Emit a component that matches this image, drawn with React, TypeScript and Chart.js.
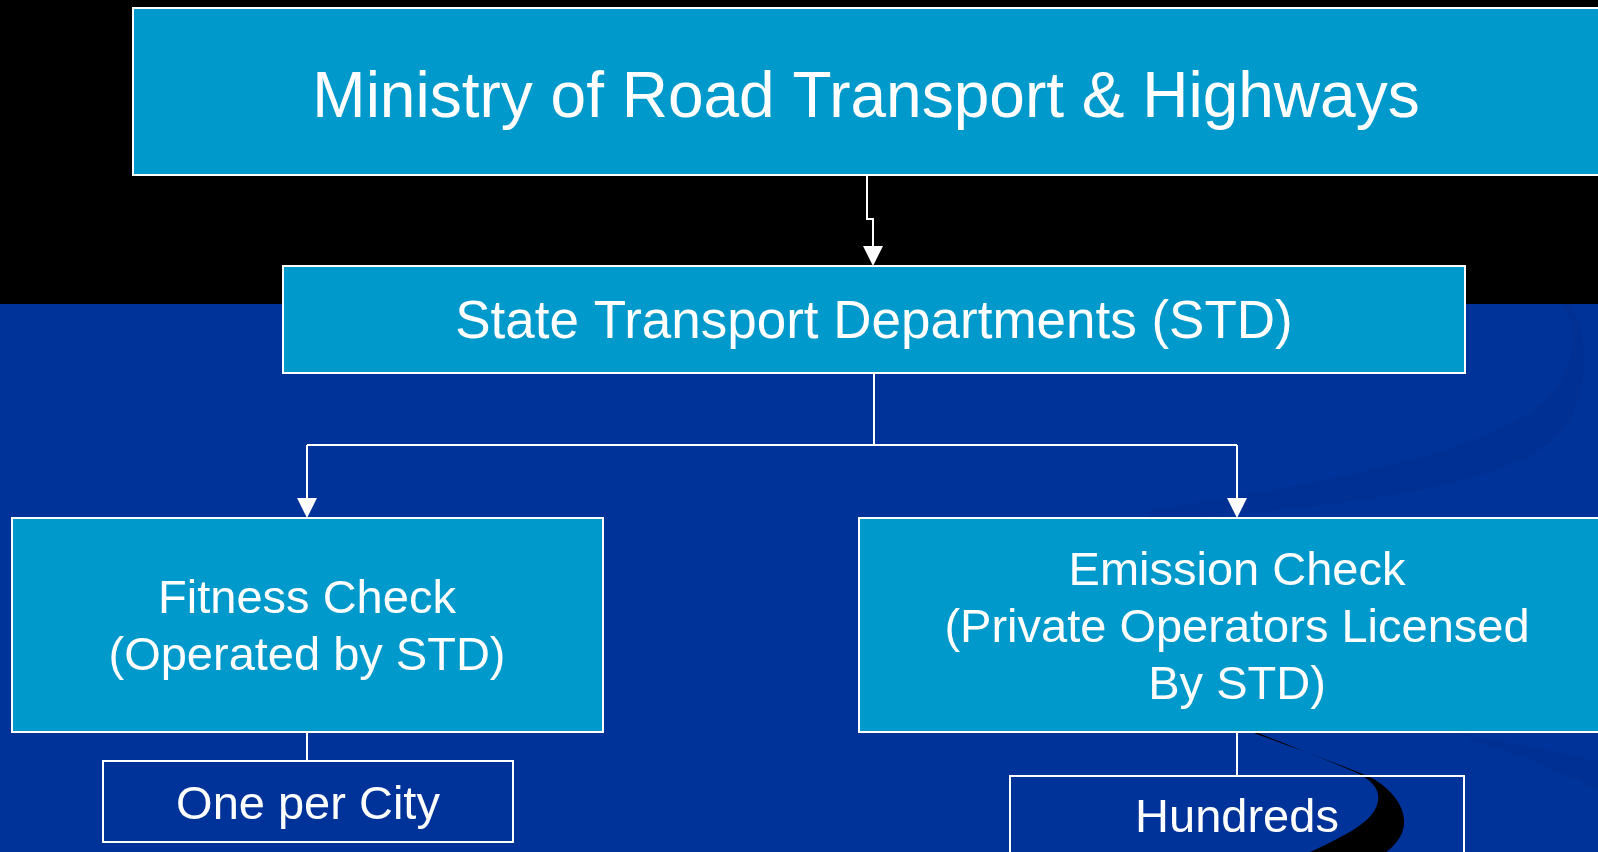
import React, { useEffect, useRef } from "react";
import { Chart, registerables } from "chart.js";

Chart.register(...registerables);

// ---- content ----
const nodeLabels: string[][] = [
  ["Ministry of Road Transport & Highways"],
  ["State Transport Departments (STD)"],
  ["Fitness Check", "(Operated by STD)"],
  ["Emission Check", "(Private Operators Licensed", "By STD)"],
  ["One per City"],
  ["Hundreds"],
];

// ---- layout (page pixel space used as scale units) ----
const W = 1598;
const H = 852;
const boxLeft = [133, 283, 12, 859, 103, 1010];
const boxRight = [1600, 1465, 603, 1620, 513, 1464];
const boxTop = [8, 266, 518, 518, 761, 776];
const boxBottom = [175, 373, 732, 732, 842, 905];
const boxFilled = [true, true, true, true, false, false];
const textCenterX = [866, 874, 307, 1237, 308, 1237];
const fontSizes = [64, 53, 47, 47, 47, 47];
const firstBaseline = [117, 338, 613, 585, 819, 832];
const lineGap = 57;

const connectorPaths: number[][][] = [
  [[867, 175], [867, 219], [873, 219], [873, 266]],
  [[874, 373], [874, 445]],
  [[307, 445], [1237, 445]],
  [[307, 445], [307, 518]],
  [[1237, 445], [1237, 518]],
  [[307, 732], [307, 761]],
  [[1237, 732], [1237, 776]],
];
const connectorArrow = [true, false, false, true, true, false, false];

const bandSplit = 304;
const COLORS = {
  black: "#000000",
  blue: "#003399",
  box: "#0099CC",
  line: "#FFFFFF",
  text: "#FFFFFF",
  faint: "rgba(0,20,90,0.09)",
};
const FONT = '"Liberation Sans", Arial, Helvetica, sans-serif';

const diagramPlugin = {
  id: "orgDiagram",
  beforeDraw(chart: any) {
    const { ctx, scales } = chart;
    const X = (v: number) => scales.x.getPixelForValue(v);
    const Y = (v: number) => scales.y.getPixelForValue(v);
    ctx.save();
    ctx.fillStyle = COLORS.black;
    ctx.fillRect(X(0), Y(0), X(W) - X(0), Y(bandSplit) - Y(0));
    ctx.fillStyle = COLORS.blue;
    ctx.fillRect(X(0), Y(bandSplit), X(W) - X(0), Y(H) - Y(bandSplit));

    // faint background swooshes
    ctx.fillStyle = COLORS.faint;
    ctx.beginPath();
    ctx.moveTo(X(1150), Y(510));
    ctx.bezierCurveTo(X(1380), Y(475), X(1540), Y(440), X(1566), Y(370));
    ctx.bezierCurveTo(X(1580), Y(335), X(1572), Y(315), X(1560), Y(304));
    ctx.lineTo(X(1570), Y(304));
    ctx.bezierCurveTo(X(1588), Y(330), X(1590), Y(380), X(1570), Y(420));
    ctx.bezierCurveTo(X(1540), Y(475), X(1400), Y(505), X(1150), Y(520));
    ctx.closePath();
    ctx.fill();

    ctx.beginPath();
    ctx.moveTo(X(1440), Y(732));
    ctx.bezierCurveTo(X(1500), Y(740), X(1560), Y(752), X(1600), Y(762));
    ctx.lineTo(X(1600), Y(792));
    ctx.bezierCurveTo(X(1560), Y(770), X(1510), Y(750), X(1470), Y(740));
    ctx.lineTo(X(1470), Y(732));
    ctx.closePath();
    ctx.fill();

    // black swoosh
    ctx.fillStyle = COLORS.black;
    ctx.beginPath();
    ctx.moveTo(X(1240), Y(728));
    ctx.bezierCurveTo(X(1300), Y(750), X(1345), Y(766), X(1372), Y(778));
    ctx.bezierCurveTo(X(1396), Y(792), X(1408), Y(812), X(1403), Y(830));
    ctx.bezierCurveTo(X(1400), Y(840), X(1392), Y(848), X(1385), Y(853));
    ctx.lineTo(X(1308), Y(853));
    ctx.bezierCurveTo(X(1345), Y(836), X(1372), Y(822), X(1377), Y(805));
    ctx.bezierCurveTo(X(1382), Y(790), X(1372), Y(780), X(1355), Y(772));
    ctx.bezierCurveTo(X(1320), Y(757), X(1280), Y(742), X(1246), Y(728));
    ctx.closePath();
    ctx.fill();
    ctx.restore();
  },
  afterDraw(chart: any) {
    const { ctx, scales } = chart;
    const X = (v: number) => scales.x.getPixelForValue(v);
    const Y = (v: number) => scales.y.getPixelForValue(v);
    ctx.save();

    // connectors
    ctx.strokeStyle = COLORS.line;
    ctx.fillStyle = COLORS.line;
    ctx.lineWidth = 2;
    connectorPaths.forEach((pts, i) => {
      const arrow = connectorArrow[i];
      const n = pts.length;
      ctx.beginPath();
      pts.forEach((p, k) => {
        let py = p[1];
        if (arrow && k === n - 1) py = p[1] - 18;
        if (k === 0) ctx.moveTo(X(p[0]), Y(py));
        else ctx.lineTo(X(p[0]), Y(py));
      });
      ctx.stroke();
      if (arrow) {
        const tip = pts[n - 1];
        ctx.beginPath();
        ctx.moveTo(X(tip[0]), Y(tip[1]));
        ctx.lineTo(X(tip[0] - 10), Y(tip[1] - 20));
        ctx.lineTo(X(tip[0] + 10), Y(tip[1] - 20));
        ctx.closePath();
        ctx.fill();
      }
    });

    // boxes
    nodeLabels.forEach((lines, i) => {
      const x0 = X(boxLeft[i]);
      const x1 = X(boxRight[i]);
      const y0 = Y(boxTop[i]);
      const y1 = Y(boxBottom[i]);
      if (boxFilled[i]) {
        ctx.fillStyle = COLORS.box;
        ctx.fillRect(x0, y0, x1 - x0, y1 - y0);
      }
      ctx.strokeStyle = COLORS.line;
      ctx.lineWidth = 2;
      ctx.strokeRect(x0, y0, x1 - x0, y1 - y0);

      ctx.fillStyle = COLORS.text;
      ctx.font = `${fontSizes[i]}px ${FONT}`;
      ctx.textAlign = "center";
      ctx.textBaseline = "alphabetic";
      lines.forEach((t, k) => {
        ctx.fillText(t, X(textCenterX[i]), Y(firstBaseline[i] + k * lineGap));
      });
    });
    ctx.restore();
  },
};

export default function App() {
  const canvasRef = useRef<HTMLCanvasElement | null>(null);

  useEffect(() => {
    document.body.style.margin = "0";
    document.body.style.overflow = "hidden";
    const canvas = canvasRef.current;
    if (!canvas) return;
    const chart = new Chart(canvas, {
      type: "scatter",
      data: {
        datasets: [
          {
            label: "nodes",
            data: textCenterX.map((x, i) => ({ x, y: (boxTop[i] + Math.min(boxBottom[i], H)) / 2 })),
            pointRadius: 0,
            pointHoverRadius: 0,
          },
        ],
      },
      options: {
        animation: false,
        responsive: true,
        maintainAspectRatio: false,
        layout: { padding: 0 },
        events: [],
        plugins: {
          legend: { display: false },
          tooltip: { enabled: false },
          title: { display: false },
        },
        scales: {
          x: { type: "linear", min: 0, max: W, display: false },
          y: { type: "linear", min: 0, max: H, reverse: true, display: false },
        },
      },
      plugins: [diagramPlugin],
    });
    return () => chart.destroy();
  }, []);

  return (
    <div style={{ position: "relative", width: W, height: H }}>
      <canvas ref={canvasRef} />
    </div>
  );
}
